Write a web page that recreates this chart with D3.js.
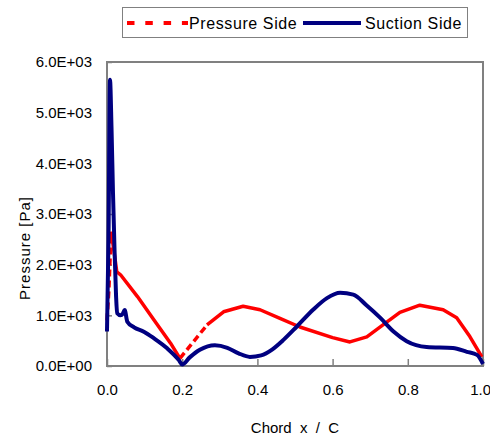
<!DOCTYPE html>
<html>
<head>
<meta charset="utf-8">
<script src="https://cdn.jsdelivr.net/npm/d3@7"></script>
<style>
    body { margin: 0; background: #fff; }
    text { font-family: 'Liberation Sans', Arial, sans-serif; fill: #000; }
</style>
</head>
<body>
<div id="chart"></div>
<script>
// chord position x/C and pressure [Pa]
const pressureX = [0, 0.005, 0.011, 0.018, 0.026, 0.036, 0.081, 0.125, 0.169, 0.194,
    0.23, 0.266, 0.31, 0.362, 0.407, 0.46, 0.513, 0.6, 0.646, 0.691,
    0.734, 0.779, 0.832, 0.894, 0.93, 0.965, 0.997]
const pressureSide = [900, 1500, 2650, 2300, 1860, 1800, 1370, 910, 450, 150,
    480, 810, 1070, 1180, 1110, 940, 770, 560, 475, 575,
    810, 1060, 1200, 1110, 950, 580, 180]

const suctionX = [0, 0.004, 0.008, 0.012, 0.016, 0.02, 0.024, 0.027, 0.036, 0.042, 0.047,
    0.054, 0.072, 0.098, 0.125, 0.16, 0.191, 0.2, 0.22, 0.247, 0.287,
    0.32, 0.35, 0.38, 0.41, 0.44, 0.47, 0.505, 0.548, 0.585, 0.62,
    0.655, 0.69, 0.727, 0.762, 0.797, 0.85, 0.92, 0.957, 0.984, 1.0]
const suctionSide = [680, 2500, 5650, 4700, 3400, 2300, 1400, 1040, 1000, 1030, 1105,
    875, 763, 678, 546, 349, 118, 30, 170, 320, 410,
    360, 250, 180, 210, 330, 520, 780, 1110, 1340, 1445,
    1410, 1200, 950, 680, 490, 375, 355, 280, 220, 40]

const xTicks = [0, 0.2, 0.4, 0.6, 0.8, 1.0]
const yTicks = [0, 1000, 2000, 3000, 4000, 5000, 6000]
const seriesNames = ['Pressure Side', 'Suction Side']

const width = 490
const height = 438
const plotLeft = 107, plotRight = 483, plotTop = 62, plotBottom = 366

const svg = d3.select('#chart').append('svg')
    .attr('width', width)
    .attr('height', height)

const x = d3.scaleLinear().domain([0, 1]).range([plotLeft, plotRight])
const y = d3.scaleLinear().domain([0, 6000]).range([plotBottom, plotTop])

const axisColor = '#808080'

// y axis, ticks pointing into the plot
const yAxis = d3.axisLeft(y)
    .tickValues(yTicks)
    .tickSize(-5)
    .tickPadding(15)
    .tickFormat(d => d3.format('.1e')(d).replace('e+', 'E+0'))

svg.append('g')
    .attr('transform', `translate(${plotLeft}, 0)`)
    .call(yAxis)
    .call(g => g.selectAll('text').style('font-size', '15px').attr('fill', '#000'))

// x axis
const xAxis = d3.axisBottom(x)
    .tickValues(xTicks)
    .tickSize(-7)
    .tickPadding(18)
    .tickFormat(d3.format('.1f'))

svg.append('g')
    .attr('transform', `translate(0, ${plotBottom})`)
    .call(xAxis)
    .call(g => g.selectAll('text').style('font-size', '15px').attr('fill', '#000'))
    .call(g => g.selectAll('.tick:last-of-type text').attr('text-anchor', 'end').attr('dx', '0.5em'))

svg.selectAll('.domain').remove()
svg.selectAll('.tick line').attr('stroke', axisColor).attr('stroke-width', 1.5)

// plot frame
svg.append('rect')
    .attr('x', plotLeft)
    .attr('y', plotTop)
    .attr('width', plotRight - plotLeft)
    .attr('height', plotBottom - plotTop)
    .attr('fill', 'none')
    .attr('stroke', axisColor)
    .attr('stroke-width', 2)

const line = d3.line()
    .x(d => x(d[0]))
    .y(d => y(d[1]))

// pressure side: dashes only show on the long steep rising stretches,
// so group consecutive segments into solid / dashed runs
const redPts = pressureX.map((v, i) => [v, pressureSide[i]])
const runs = []
d3.pairs(redPts).forEach(([a, b]) => {
    const dx = x(b[0]) - x(a[0])
    const dy = y(b[1]) - y(a[1])
    const dashed = dy < 0 && Math.abs(dy) > dx
    const last = runs[runs.length - 1]
    if (last && last.dashed == dashed) {
        last.pts.push(b)
    } else {
        runs.push({dashed: dashed, pts: [a, b]})
    }
})

const plot = svg.append('g')
plot.selectAll('path.red')
    .data(runs)
    .enter()
    .append('path')
        .attr('class', 'red')
        .attr('d', d => line(d.pts))
        .attr('fill', 'none')
        .attr('stroke', '#ff0000')
        .attr('stroke-width', 3.5)
        .attr('stroke-linejoin', 'round')
        .attr('stroke-dasharray', d => d.dashed ? '7,4' : null)

const bluePts = suctionX.map((v, i) => [v, suctionSide[i]])
plot.append('path')
    .attr('d', line.curve(d3.curveMonotoneX)(bluePts))
    .attr('fill', 'none')
    .attr('stroke', '#000080')
    .attr('stroke-width', 4)
    .attr('stroke-linejoin', 'round')

// axis titles
svg.append('text')
    .text('Pressure [Pa]')
    .attr('transform', 'translate(30, 248) rotate(-90)')
    .attr('text-anchor', 'middle')
    .style('font-size', '15px')
    .style('letter-spacing', '1px')

svg.append('text')
    .text('Chord  x  /  C')
    .attr('x', 295)
    .attr('y', 433)
    .attr('text-anchor', 'middle')
    .style('font-size', '15px')
    .style('white-space', 'pre')

// legend
const legend = svg.append('g')
legend.append('rect')
    .attr('x', 122.5)
    .attr('y', 7.5)
    .attr('width', 345)
    .attr('height', 30)
    .attr('fill', '#fff')
    .attr('stroke', axisColor)
    .attr('stroke-width', 1)

legend.append('line')
    .attr('x1', 127).attr('x2', 188)
    .attr('y1', 23).attr('y2', 23)
    .attr('stroke', '#ff0000')
    .attr('stroke-width', 4)
    .attr('stroke-dasharray', '7.5,10.8')
legend.append('text')
    .text(seriesNames[0])
    .attr('x', 189)
    .attr('y', 29)
    .style('font-size', '16px')
    .style('letter-spacing', '0.6px')

legend.append('line')
    .attr('x1', 303).attr('x2', 361)
    .attr('y1', 23).attr('y2', 23)
    .attr('stroke', '#000080')
    .attr('stroke-width', 4)
legend.append('text')
    .text(seriesNames[1])
    .attr('x', 365)
    .attr('y', 29)
    .style('font-size', '16px')
    .style('letter-spacing', '0.6px')
</script>
</body>
</html>
